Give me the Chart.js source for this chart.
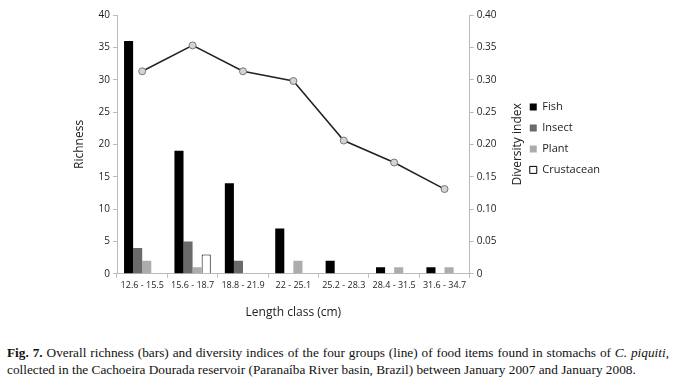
<!DOCTYPE html>
<html>
<head>
<meta charset="utf-8">
<script src="https://cdn.jsdelivr.net/npm/chart.js@4.4.1/dist/chart.umd.min.js"></script>
<style>
  body { margin: 0; background: #fff; }
  #wrap { position: relative; width: 676px; height: 330px; }
  #caption {
    position: absolute; left: 7px; top: 344px; width: 662px;
    font-family: "Liberation Serif", "Times New Roman", serif;
    font-size: 13.3px; line-height: 17px; color: #111;
  }
  #caption .l1 { text-align: justify; text-align-last: justify; white-space: nowrap; }
</style>
</head>
<body>
<div id="wrap"><canvas id="chart"></canvas></div>
<div id="caption">
  <div class="l1"><b>Fig. 7.</b> Overall richness (bars) and diversity indices of the four groups (line) of food items found in stomachs of <i>C. piquiti</i>,</div>
  <div>collected in the Cachoeira Dourada reservoir (Paranaíba River basin, Brazil) between January 2007 and January 2008.</div>
</div>
<script>
//Length classes on the x axis
const lengthClasses = ['12.6 - 15.5', '15.6 - 18.7', '18.8 - 21.9', '22 - 25.1', '25.2 - 28.3', '28.4 - 31.5', '31.6 - 34.7'];
//Richness per food group (bars)
const fish = [36, 19, 14, 7, 2, 1, 1];
const insect = [4, 5, 2, 0, 0, 0, 0];
const plant = [2, 1, 0, 2, 0, 1, 1];
const crustacean = [0, 3, 0, 0, 0, 0, 0];
//Diversity index (line)
const diversity = [0.313, 0.353, 0.313, 0.298, 0.206, 0.172, 0.131];

const ctx = document.getElementById('chart');
const tickFont = { family: 'Open Sans', size: 10 };

//Right axis title reads bottom-to-top like the left one
const rightTitle = {
    id: 'rightTitle',
    afterDraw(chart) {
        const s = chart.scales.y1;
        const c = chart.ctx;
        c.save();
        c.translate(s.right - 2, (s.top + s.bottom) / 2);
        c.rotate(-Math.PI / 2);
        c.font = '12px "Open Sans"';
        c.fillStyle = '#222';
        c.textAlign = 'center';
        c.textBaseline = 'middle';
        c.fillText('Diversity index', 0, 0);
        c.restore();
    }
};

new Chart(ctx, {
    type: 'bar',
    data: {
        labels: lengthClasses,
        datasets: [
            {
                type: 'line',
                label: 'Diversity',
                data: diversity,
                yAxisID: 'y1',
                borderColor: '#222',
                borderWidth: 1.5,
                pointRadius: 3.5,
                pointBackgroundColor: '#d4d4d4',
                pointBorderColor: '#777',
                pointBorderWidth: 1,
                order: 0
            },
            { label: 'Fish', data: fish, backgroundColor: '#000', order: 1 },
            { label: 'Insect', data: insect, backgroundColor: '#6a6a6a', order: 1 },
            { label: 'Plant', data: plant, backgroundColor: '#acacac', order: 1 },
            { label: 'Crustacean', data: crustacean, backgroundColor: '#fff', borderColor: '#000', borderWidth: 1, order: 1 }
        ]
    },
    plugins: [rightTitle],
    options: {
        responsive: true,
        maintainAspectRatio: false,
        animation: false,
        categoryPercentage: 0.72,
        barPercentage: 1,
        layout: { padding: { left: 68, top: 15, right: 66, bottom: 6 } },
        plugins: {
            legend: {
                position: 'right',
                align: 'start',
                title: { display: true, text: '', padding: { top: 0, bottom: 62 } },
                labels: {
                    font: { family: 'Open Sans', size: 11 },
                    color: '#222',
                    boxWidth: 7,
                    boxHeight: 7,
                    padding: 10,
                    filter: item => item.text !== 'Diversity'
                }
            },
            tooltip: { enabled: false }
        },
        scales: {
            x: {
                grid: { drawOnChartArea: false, color: '#bbb', tickLength: 4 },
                border: { color: '#bbb' },
                ticks: { font: { family: 'Open Sans', size: 9 }, color: '#222', maxRotation: 0, padding: 2 },
                title: { display: true, text: 'Length class (cm)', font: { family: 'Open Sans', size: 12 }, color: '#222', padding: { top: 13 } }
            },
            y: {
                position: 'left',
                min: 0,
                max: 40,
                afterFit: s => { s.width = 49; },
                grid: { drawOnChartArea: false, color: '#bbb', tickLength: 4 },
                border: { color: '#bbb' },
                ticks: { stepSize: 5, font: tickFont, color: '#222', padding: 3 },
                title: { display: true, text: 'Richness', font: { family: 'Open Sans', size: 12 }, color: '#222', padding: 4 }
            },
            y1: {
                position: 'right',
                min: 0,
                max: 0.4,
                afterFit: s => { s.width = 50; },
                grid: { drawOnChartArea: false, color: '#bbb', tickLength: 4 },
                border: { color: '#bbb' },
                ticks: {
                    stepSize: 0.05,
                    font: tickFont,
                    color: '#222',
                    padding: 3,
                    callback: v => v === 0 ? '0' : v.toFixed(2)
                }
            }
        }
    }
});
</script>
</body>
</html>
